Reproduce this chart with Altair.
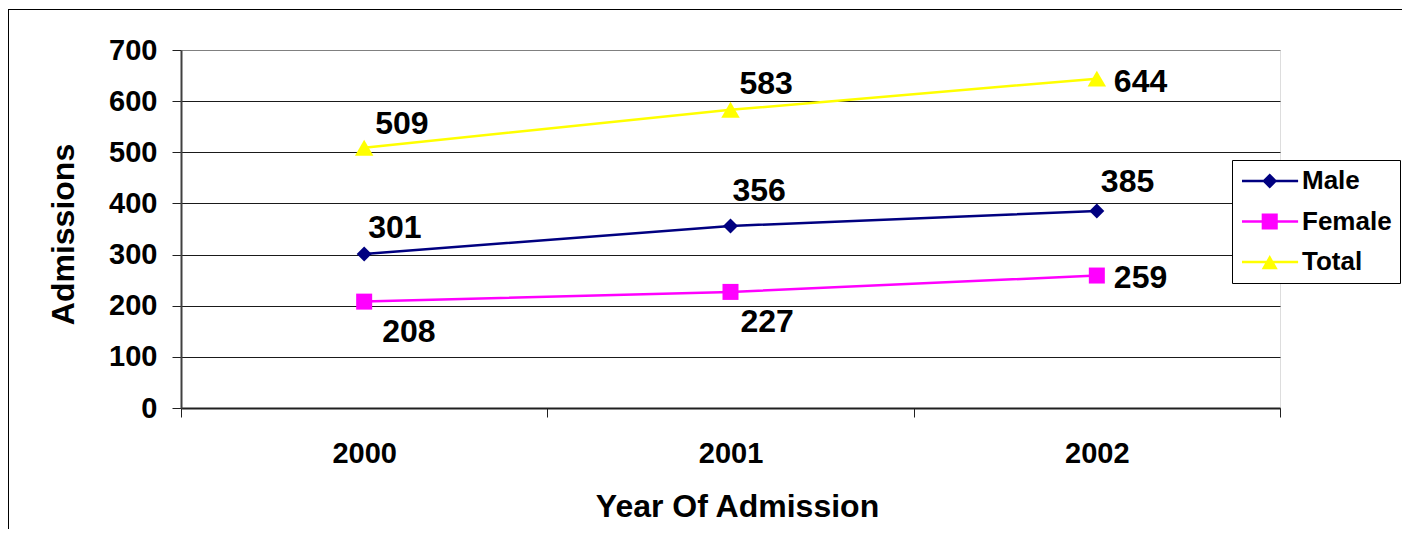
import altair as alt
import pandas as pd

# ---- data ----
years = ["2000", "2001", "2002"]
series_names = ["Male", "Female", "Total"]
male = [301, 356, 385]
female = [208, 227, 259]
total = [509, 583, 644]
y_ticks = [0, 100, 200, 300, 400, 500, 600, 700]

# ---- styles ----
series_colors = ["#000080", "#FF00FF", "#FFFF00"]
marker_shapes = {"Male": ("diamond", 225), "Female": ("square", 256), "Total": ("triangle-up", 340)}
# legend symbols: line segment + marker (custom paths)
legend_paths = [
    "M-1,-0.11L4.1,-0.11L4.1,0.11L-1,0.11Z M0.84,0L1.52,-0.68L2.2,0L1.52,0.68Z",
    "M-1,-0.11L4.1,-0.11L4.1,0.11L-1,0.11Z M0.79,-0.73L2.25,-0.73L2.25,0.73L0.79,0.73Z",
    "M-1,-0.11L4.1,-0.11L4.1,0.11L-1,0.11Z M1.52,-0.64L2.25,0.66L0.79,0.66Z",
]
FONT = "Liberation Sans"
W, H = 1099, 358

label_offsets = {
    ("Total", "2000"): (11, -24), ("Total", "2001"): (9, -26), ("Total", "2002"): (17, 3),
    ("Male", "2000"): (4, -26), ("Male", "2001"): (2, -35), ("Male", "2002"): (4, -29),
    ("Female", "2000"): (18, 30), ("Female", "2001"): (10, 30), ("Female", "2002"): (17, 2),
}

rows = []
for name, vals in zip(series_names, [male, female, total]):
    for yr, v in zip(years, vals):
        rows.append({"year": yr, "series": name, "value": v})
df = pd.DataFrame(rows)

x_enc = alt.X(
    "year:O",
    scale=alt.Scale(type="band", domain=years, paddingInner=0, paddingOuter=0),
    axis=alt.Axis(
        title="Year Of Admission", tickBand="extent", labelAngle=0,
        labelFont=FONT, labelFontSize=29, labelFontWeight="bold", labelColor="black",
        labelPadding=22, tickSize=9, tickColor="#202020", tickWidth=1,
        domainColor="#202020", domainWidth=2, grid=False,
        titleFont=FONT, titleFontSize=32, titleFontWeight="bold", titleColor="black",
        titleX=556, titleY=108, titleAlign="center", titleBaseline="alphabetic",
    ),
)
y_enc = alt.Y(
    "value:Q",
    scale=alt.Scale(domain=[0, 700], nice=False),
    axis=alt.Axis(
        values=y_ticks, title="Admissions",
        labelFont=FONT, labelFontSize=29, labelFontWeight="bold", labelColor="black",
        labelPadding=15, tickSize=9, tickColor="#202020", tickWidth=1,
        domainColor="#404040", domainWidth=2,
        grid=True, gridWidth=1,
        gridColor={"condition": {"test": "datum.value === 700", "value": "#808080"}, "value": "#1a1a1a"},
        titleFont=FONT, titleFontSize=32, titleFontWeight="bold", titleColor="black",
        titleAngle=270, titleX=-108, titleY=184, titleAlign="center", titleBaseline="alphabetic",
    ),
)
color_scale = alt.Scale(domain=series_names, range=series_colors)

base = alt.Chart(df)

lines = []
markers = []
for name, col in zip(series_names, series_colors):
    shp, sz = marker_shapes[name]
    sub = base.transform_filter(alt.datum.series == name)
    lines.append(sub.mark_line(strokeWidth=2.5, color=col).encode(x=x_enc, y=y_enc))
    markers.append(
        sub.mark_point(shape=shp, size=sz, filled=True, color=col, opacity=1)
        .encode(x=x_enc, y=y_enc)
    )

labels = []
for (name, yr), (dx, dy) in label_offsets.items():
    labels.append(
        base.transform_filter((alt.datum.series == name) & (alt.datum.year == yr))
        .mark_text(align="left", baseline="middle", dx=dx, dy=dy, font=FONT,
                   fontSize=32, fontWeight="bold", color="black")
        .encode(x=x_enc, y=y_enc, text="value:Q")
    )

leg_props = dict(
    title=None, orient="none", legendX=1051, legendY=110, padding=8,
    strokeColor="black", fillColor="white", labelFont=FONT, labelFontSize=26,
    labelFontWeight="bold", labelColor="black", labelOffset=36, rowPadding=14.5,
    symbolSize=484, symbolStrokeWidth=0,
)
legend_layer = base.transform_filter("datum.value < 0").mark_point(filled=True, opacity=1).encode(
    x=x_enc, y=y_enc,
    color=alt.Color("series:N", scale=color_scale, legend=alt.Legend(**leg_props)),
    shape=alt.Shape("series:N", scale=alt.Scale(domain=series_names, range=legend_paths),
                    legend=alt.Legend(**leg_props)),
)

frame_left = alt.Chart(df).mark_rule(color="black", strokeWidth=1).encode(
    x=alt.value(-172.5), y=alt.value(-40.5), y2=alt.value(480)
)
frame_top = alt.Chart(df).mark_rule(color="black", strokeWidth=1).encode(
    x=alt.value(-172.5), x2=alt.value(1230), y=alt.value(-40.5)
)

chart = alt.layer(*lines, *markers, *labels, legend_layer, frame_left, frame_top).properties(
    width=W, height=H,
    autosize=alt.AutoSizeParams(type="none"),
    padding={"left": 173, "top": 42, "right": 122, "bottom": 121},
).configure_view(stroke="#808080", strokeWidth=2).configure(background="white")

chart.save("out.html", embed_options={"renderer": "svg", "actions": False})
